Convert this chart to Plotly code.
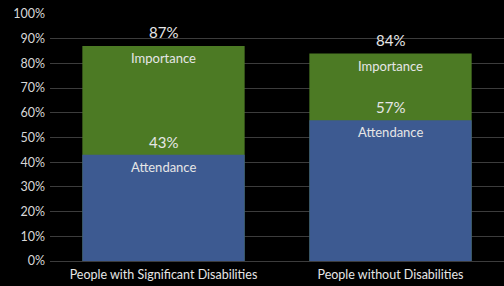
import plotly.graph_objects as go

categories = ["People with Significant Disabilities", "People without Disabilities"]
importance = [87, 84]
attendance = [43, 57]
y_ticks = [0, 10, 20, 30, 40, 50, 60, 70, 80, 90, 100]
y_tick_labels = [f"{v}%" for v in y_ticks]

BLUE = "#3D5A91"
GREEN = "#4C7A24"
TXT = "#E6E6E6"
FONT = "Lato"

fig = go.Figure()
fig.add_trace(go.Bar(x=categories, y=importance, marker=dict(color=GREEN, line=dict(width=0)),
                     name="Importance", hoverinfo="skip"))
fig.add_trace(go.Bar(x=categories, y=attendance, marker=dict(color=BLUE, line=dict(width=0)),
                     name="Attendance", hoverinfo="skip"))

annotations = []
for cat, imp, att in zip(categories, importance, attendance):
    annotations.append(dict(x=cat, y=imp, text=f"{imp}%", showarrow=False, yanchor="bottom",
                            yshift=3, font=dict(size=15, color=TXT, family=FONT)))
    annotations.append(dict(x=cat, y=imp, text="Importance", showarrow=False, yanchor="top",
                            yshift=-2, font=dict(size=13, color=TXT, family=FONT)))
    annotations.append(dict(x=cat, y=att, text=f"{att}%", showarrow=False, yanchor="bottom",
                            yshift=2, font=dict(size=15, color=TXT, family=FONT)))
    annotations.append(dict(x=cat, y=att, text="Attendance", showarrow=False, yanchor="top",
                            yshift=-2, font=dict(size=13, color=TXT, family=FONT)))

fig.update_layout(
    width=504, height=286,
    margin=dict(l=50, r=0, t=14, b=25),
    paper_bgcolor="black", plot_bgcolor="black",
    barmode="overlay", bargap=0.285,
    showlegend=False,
    annotations=annotations,
    font=dict(family=FONT, color=TXT, size=12),
    xaxis=dict(showgrid=False, showline=False, zeroline=False,
               tickfont=dict(size=12.5, color=TXT, family=FONT), ticks="", ticklabelstandoff=4),
    yaxis=dict(range=[0, 100], tickvals=y_ticks, ticktext=y_tick_labels,
               showgrid=True, gridcolor="#3C3C3C", gridwidth=1, zeroline=True,
               zerolinecolor="#3C3C3C", zerolinewidth=1,
               layer="below traces",
               tickfont=dict(size=12.5, color="#D8D8D8", family=FONT), ticks="", ticklabelstandoff=4),
)

fig.write_html("out.html", config={"displayModeBar": False},
               post_script="document.body.style.margin='0';document.body.style.background='black';")
